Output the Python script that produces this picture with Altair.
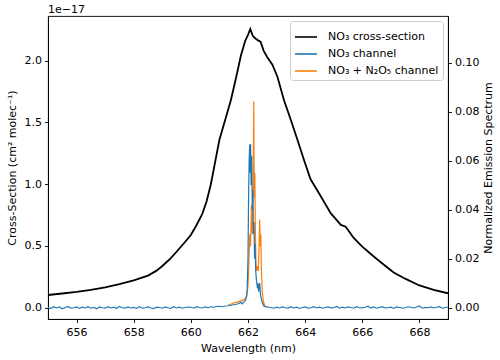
import altair as alt
import numpy as np
import pandas as pd

FONT = "DejaVu Sans"

# NO3 absorption cross-section (units of 1e-17 cm^2 molec^-1)
cs_wl = [655.0, 655.5, 656.0, 656.5, 657.0, 657.5, 658.0, 658.5, 658.8, 659.0,
         659.25, 659.5, 659.75, 660.0, 660.2, 660.4, 660.55, 660.7, 660.85, 661.0,
         661.2, 661.4, 661.6, 661.75, 661.9, 662.0, 662.08, 662.17, 662.26, 662.38,
         662.44, 662.55, 662.67, 662.85, 663.03, 663.26, 663.5, 663.73, 663.96, 664.19,
         664.5, 664.9, 665.25, 665.42, 665.7, 666.0, 666.4, 666.8, 667.1, 667.5,
         668.0, 668.5, 669.0]
cs_val = [0.103, 0.115, 0.128, 0.145, 0.165, 0.19, 0.222, 0.26, 0.30, 0.338,
          0.39, 0.453, 0.52, 0.589, 0.67, 0.76, 0.86, 1.0, 1.18, 1.36,
          1.52, 1.68, 1.88, 2.04, 2.16, 2.21, 2.257, 2.20, 2.18, 2.16,
          2.154, 2.08, 2.03, 1.97, 1.87, 1.68, 1.52, 1.36, 1.196, 1.04,
          0.92, 0.764, 0.67, 0.656, 0.565, 0.495, 0.415, 0.34, 0.285, 0.235,
          0.18, 0.145, 0.117]

# NO3 channel emission: baseline (x1e-4) either side of the line, plus the line itself
base_left_wl = np.round(np.arange(655.0, 661.25, 0.1), 2).tolist()
base_left = [2, -3, 4, -1, 3, -4, 1, 5, -2, 0, 3, -3, 2, -1, 4, -2, 1, -4, 3, 0,
             -2, 4, -1, 2, -3, 5, 0, -2, 3, -1, 1, -3, 4, -2, 0, 3, -1, -4, 2, 1,
             -2, 3, 0, -3, 4, -1, 2, -2, 1, 3, 2, -2, 4, 1, -1, 3, 0, 4, 2, 5,
             6, 4, 7]
base_right_wl = np.round(np.arange(662.7, 669.05, 0.1), 2).tolist()
base_right = [3, 1, -2, 2, -1, 3, 0, -2, 4, -1, 2, -3, 1, 3, -2, 0, 4, -1, 2, -2,
              1, 3, -1, 0, 5, -2, 2, -1, 3, 1, -2, 4, 0, -1, 2, 6, -1, 3, -2, 1,
              4, -1, 0, 2, -3, 3, 1, -2, 0, 4, 2, -1, 3, 7, -2, 1, 0, 3, -1, 2,
              4, -2, 1, 3]
no3_line_wl = [661.3, 661.4, 661.5, 661.6, 661.7, 661.74, 661.8, 661.85, 661.9, 661.94,
               661.97, 662.0, 662.02, 662.04, 662.06, 662.08, 662.09, 662.11, 662.13, 662.15,
               662.17, 662.19, 662.21, 662.23, 662.25, 662.27, 662.29, 662.31, 662.33, 662.35,
               662.37, 662.39, 662.41, 662.43, 662.46, 662.5, 662.55, 662.6]
no3_line = [0.0008, 0.0010, 0.0012, 0.0014, 0.0018, 0.0022, 0.0016, 0.0024, 0.0028, 0.0040,
            0.0070, 0.0200, 0.0450, 0.0600, 0.0665, 0.0550, 0.0668, 0.0500, 0.0620, 0.0400,
            0.0480, 0.0300, 0.0350, 0.0200, 0.0260, 0.0150, 0.0120, 0.0100, 0.0080, 0.0100,
            0.0065, 0.0090, 0.0100, 0.0060, 0.0040, 0.0020, 0.0008, 0.0004]

# NO3 + N2O5 channel emission around the line
n2o5_wl = [661.3, 661.4, 661.5, 661.6, 661.7, 661.8, 661.9, 661.96, 662.0, 662.03,
           662.06, 662.09, 662.12, 662.15, 662.18, 662.2, 662.22, 662.24, 662.26, 662.28,
           662.3, 662.33, 662.36, 662.38, 662.41, 662.43, 662.45, 662.47, 662.5, 662.55,
           662.6, 662.7]
n2o5_val = [0.0010, 0.0014, 0.0020, 0.0022, 0.0026, 0.0030, 0.0036, 0.0050, 0.0090, 0.0180,
            0.0300, 0.0250, 0.0420, 0.0300, 0.0500, 0.0841, 0.0450, 0.0550, 0.0300, 0.0180,
            0.0150, 0.0170, 0.0150, 0.0220, 0.0360, 0.0250, 0.0300, 0.0150, 0.0060, 0.0020,
            0.0006, 0.0003]

labels = ["NO₃ cross-section", "NO₃ channel", "NO₃ + N₂O₅ channel"]
colors = ["black", "#1f77b4", "#ff7f0e"]

cs_df = pd.DataFrame({"wl": cs_wl, "val": cs_val, "series": labels[0]})
no3_df = pd.DataFrame({
    "wl": base_left_wl + no3_line_wl + base_right_wl,
    "val": [v * 1e-4 for v in base_left] + no3_line + [v * 1e-4 for v in base_right],
    "series": labels[1],
})
n2o5_df = pd.DataFrame({"wl": n2o5_wl, "val": n2o5_val, "series": labels[2]})

x_enc = alt.X("wl:Q", scale=alt.Scale(domain=[655, 669], nice=False, zero=False),
              axis=alt.Axis(values=[656, 658, 660, 662, 664, 666, 668], format="d",
                            title="Wavelength (nm)", labelPadding=4, titlePadding=5))
color_enc = alt.Color("series:N",
                      scale=alt.Scale(domain=labels, range=colors),
                      legend=alt.Legend(title=None, orient="top-right", offset=5,
                                        symbolType="stroke", symbolSize=484,
                                        symbolStrokeWidth=1.6, labelFont=FONT,
                                        labelFontSize=11, labelColor="black",
                                        labelOffset=10, rowPadding=0, padding=4,
                                        strokeColor="#cccccc", cornerRadius=3,
                                        fillColor="rgba(255,255,255,0.85)"))

left_y = alt.Y("val:Q",
               scale=alt.Scale(domain=[-0.0915, 2.362], nice=False, zero=False),
               axis=alt.Axis(orient="left", values=[0, 0.5, 1.0, 1.5, 2.0], format=".1f",
                             title="Cross-Section (cm² molec⁻¹)", titlePadding=7))
right_y = alt.Y("val:Q",
                scale=alt.Scale(domain=[-0.0046, 0.119], nice=False, zero=False),
                axis=alt.Axis(orient="right", values=[0, 0.02, 0.04, 0.06, 0.08, 0.10],
                              format=".2f", title="Normalized Emission Spectrum",
                              titleAngle=270, titleBaseline="top", titlePadding=4))

cross = alt.Chart(cs_df).mark_line(strokeWidth=1.8, clip=True).encode(
    x=x_enc, y=left_y, color=color_enc)

orange = alt.Chart(n2o5_df).mark_line(strokeWidth=1.2, clip=True).encode(
    x=x_enc, y=right_y, color=color_enc)
blue = alt.Chart(no3_df).mark_line(strokeWidth=1.2, clip=True).encode(
    x=x_enc, y=right_y, color=color_enc)
channels = alt.layer(orange, blue)

chart = alt.layer(cross, channels).resolve_scale(y="independent").properties(
    width=400, height=303,
    background="white",
    padding={"left": 48, "top": 16, "right": 52, "bottom": 41},
    autosize=alt.AutoSizeParams(type="none"),
    title=alt.TitleParams("1e−17", anchor="start", frame="group", font=FONT,
                          fontSize=11, fontWeight="normal", color="black",
                          baseline="bottom", offset=-10),
).configure_view(stroke="black", strokeWidth=0.9).configure_axis(
    labelFont=FONT, titleFont=FONT, labelFontSize=11, titleFontSize=11,
    titleFontWeight="normal", labelColor="black", titleColor="black",
    domainColor="black", tickColor="black", domainWidth=0.9, tickWidth=0.9,
    tickSize=3.5, labelPadding=3, grid=False,
)

chart.save("out.html", embed_options={"renderer": "svg", "actions": False})
